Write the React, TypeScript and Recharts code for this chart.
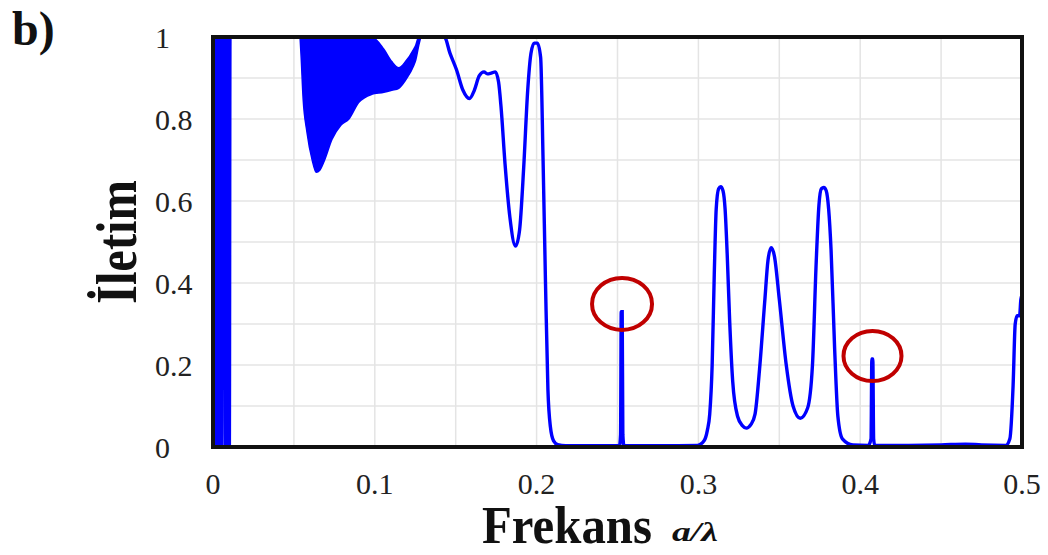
import React from 'react';
import {
  ComposedChart,
  Line,
  Area,
  XAxis,
  YAxis,
  CartesianGrid,
  ReferenceArea,
  ReferenceDot,
  Label,
} from 'recharts';

// transmission curve (frequency a/λ -> transmission)
const freq = [
  0, 0.0005, 0.001, 0.0014, 0.002, 0.0024, 0.0029, 0.0033, 0.0038, 0.0042, 0.0047, 0.0051, 0.0055, 0.0059, 0.0074,
  0.0078, 0.0083, 0.0087, 0.0092, 0.0096, 0.0101, 0.0105,
  0.054, 0.09, 0.128, 0.143, 0.1465, 0.1505, 0.1545, 0.1585, 0.1615, 0.1645, 0.1675, 0.1695, 0.172, 0.1745, 0.1765,
  0.178, 0.1805, 0.1835, 0.187, 0.1895, 0.192, 0.1945, 0.1965, 0.1985, 0.2005, 0.2025, 0.204, 0.2055, 0.207, 0.2085,
  0.2105, 0.213, 0.218, 0.235, 0.2512, 0.2519, 0.2523, 0.2529, 0.2533, 0.254, 0.275, 0.2995, 0.3035, 0.3055, 0.307,
  0.3085, 0.3098, 0.311, 0.3125, 0.3138, 0.3152, 0.3165, 0.3178, 0.3193, 0.3212, 0.3242, 0.3272, 0.3296, 0.3325,
  0.335, 0.3378, 0.341, 0.343, 0.345, 0.347, 0.35, 0.3543, 0.3585, 0.363, 0.3675, 0.3705, 0.3728, 0.3745, 0.376,
  0.3775, 0.379, 0.3805, 0.382, 0.3842, 0.3862, 0.389, 0.3955, 0.405, 0.4067, 0.4072, 0.4078, 0.4083, 0.409, 0.43,
  0.45, 0.465, 0.475, 0.49, 0.4925, 0.4945, 0.4958, 0.497, 0.4985, 0.4993, 0.5,
];
const transmission = [
  0, 1, 1, 0, 0, 1, 1, 0, 0, 1, 1, 0, 0, 1, 1,
  0, 0, 1, 1, 0, 0, 1,
  1, null, 1, 1, 0.96, 0.92, 0.87, 0.85, 0.87, 0.905, 0.915, 0.91, 0.912, 0.915, 0.89,
  0.83, 0.69, 0.56, 0.49, 0.53, 0.68, 0.87, 0.96, 0.985, 0.985, 0.95, 0.7, 0.4, 0.14, 0.05,
  0.015, 0.006, 0.003, 0.003, 0.003, 0.03, 0.33, 0.33, 0.03, 0.003, 0.003, 0.004, 0.015, 0.04, 0.08,
  0.2, 0.42, 0.58, 0.63, 0.635, 0.625, 0.58, 0.47, 0.31, 0.16, 0.075, 0.052, 0.046, 0.055,
  0.08, 0.19, 0.355, 0.455, 0.486, 0.465, 0.36, 0.2, 0.1, 0.07, 0.095, 0.2, 0.45, 0.59, 0.63,
  0.633, 0.625, 0.58, 0.48, 0.24, 0.075, 0.02, 0.005, 0.004, 0.02, 0.215, 0.215, 0.02, 0.004, 0.004,
  0.005, 0.007, 0.005, 0.004, 0.02, 0.15, 0.3, 0.32, 0.32, 0.36, 0.37,
];

// densely oscillating region at low frequency, drawn as its envelope
const bandFreq = [
  0.0538, 0.0545, 0.0557, 0.058, 0.0613, 0.0638, 0.066, 0.069, 0.0735, 0.079, 0.084, 0.09, 0.098, 0.1056, 0.1105,
  0.1148, 0.119, 0.124, 0.1253, 0.1272, 0.1284,
];
const bandLow = [
  1, 0.95, 0.85, 0.77, 0.7, 0.67, 0.675, 0.7, 0.75, 0.785, 0.8, 0.84, 0.86, 0.865, 0.87,
  0.875, 0.895, 0.93, 0.944, 0.98, 1,
];
const bandHigh = [
  1, 1, 1, 1, 1, 1, 1, 1, 1, 1, 1, 1, 1, 0.97, 0.94,
  0.925, 0.94, 0.97, 0.98, 1, 1,
];

// red circled resonances
const markerFreq = [0.2528, 0.4076];
const markerLevel = [0.349, 0.222];

const xTicks = [0, 0.05, 0.1, 0.15, 0.2, 0.25, 0.3, 0.35, 0.4, 0.45, 0.5];
const yTicks = [0, 0.1, 0.2, 0.3, 0.4, 0.5, 0.6, 0.7, 0.8, 0.9, 1];

const curveData = freq.map((f, i) => ({ f, t: transmission[i] }));
const bandData = bandFreq.map((f, i) => ({ f, range: [bandLow[i], bandHigh[i]] }));

const SERIF = '"Liberation Serif", "Times New Roman", serif';
const BLUE = '#0000ff';

const fmt = (v: number) => (v === 0 ? '0' : v === 1 ? '1' : String(Math.round(v * 10) / 10));

const XTick = (props: any) => {
  const { x, y, payload } = props;
  const v = payload.value;
  if (Math.round(v * 100) % 10 !== 0) return null;
  return (
    <text x={x} y={y + 39} textAnchor="middle" fontFamily={SERIF} fontSize={30} fill="#222">
      {fmt(v)}
    </text>
  );
};

const YTick = (props: any) => {
  const { y, payload } = props;
  const v = payload.value;
  if (Math.round(v * 10) % 2 !== 0) return null;
  return (
    <text x={155} y={y} dy={11} textAnchor="start" fontFamily={SERIF} fontSize={30} fill="#222">
      {fmt(v)}
    </text>
  );
};

const XTitle = () => (
  <g>
    <text x={482} y={543} fontFamily={SERIF} fontWeight="bold" fontSize={52} fill="#111" textLength={170} lengthAdjust="spacingAndGlyphs">
      Frekans
    </text>
    <text x={672} y={541} fontFamily={SERIF} fontWeight="bold" fontStyle="italic" fontSize={27} fill="#111" textLength={46} lengthAdjust="spacingAndGlyphs">
      a/λ
    </text>
  </g>
);

const YTitle = () => (
  <g>
    <text x={12} y={45} fontFamily={SERIF} fontWeight="bold" fontSize={48} fill="#111">
      b)
    </text>
    <text
      transform="translate(136, 242) rotate(-90)"
      textAnchor="middle"
      fontFamily={SERIF}
      fontWeight="bold"
      fontSize={56}
      fill="#111"
      textLength={124}
      lengthAdjust="spacingAndGlyphs"
    >
      İletim
    </text>
  </g>
);

const Ring = (rx: number, ry: number) => (p: any) => (
  <ellipse cx={p.cx} cy={p.cy} rx={rx} ry={ry} fill="none" stroke="#c00000" strokeWidth={4} />
);

export default function App() {
  return (
    <div style={{ position: 'absolute', left: 0, top: 0, width: 1048, height: 555, background: '#fff' }}>
      <ComposedChart width={1048} height={555} margin={{ top: 37, right: 26, bottom: 8, left: 155 }}>
        <CartesianGrid stroke="#e4e4e4" strokeWidth={1.5} />
        <XAxis
          type="number"
          dataKey="f"
          domain={[0, 0.5]}
          ticks={xTicks}
          tick={<XTick />}
          tickLine={false}
          axisLine={false}
          height={100}
          allowDataOverflow
        >
          <Label content={<XTitle />} />
        </XAxis>
        <YAxis
          type="number"
          domain={[0, 1]}
          ticks={yTicks}
          tick={<YTick />}
          tickLine={false}
          axisLine={false}
          width={58}
        >
          <Label content={<YTitle />} />
        </YAxis>
        <Area
          data={bandData}
          dataKey="range"
          type="monotone"
          stroke={BLUE}
          strokeWidth={1.5}
          fill={BLUE}
          fillOpacity={1}
          isAnimationActive={false}
        />
        <Line
          data={curveData}
          dataKey="t"
          type="monotone"
          stroke={BLUE}
          strokeWidth={3.4}
          dot={false}
          activeDot={false}
          connectNulls={false}
          isAnimationActive={false}
        />
        <ReferenceArea
          x1={0}
          x2={0.5}
          y1={0}
          y2={1}
          fill="none"
          stroke="#111"
          strokeWidth={4}
          zIndex={1500}
        />
        <ReferenceDot x={markerFreq[0]} y={markerLevel[0]} shape={Ring(30, 26)} zIndex={1600} />
        <ReferenceDot x={markerFreq[1]} y={markerLevel[1]} shape={Ring(29, 25)} zIndex={1600} />
      </ComposedChart>
    </div>
  );
}
